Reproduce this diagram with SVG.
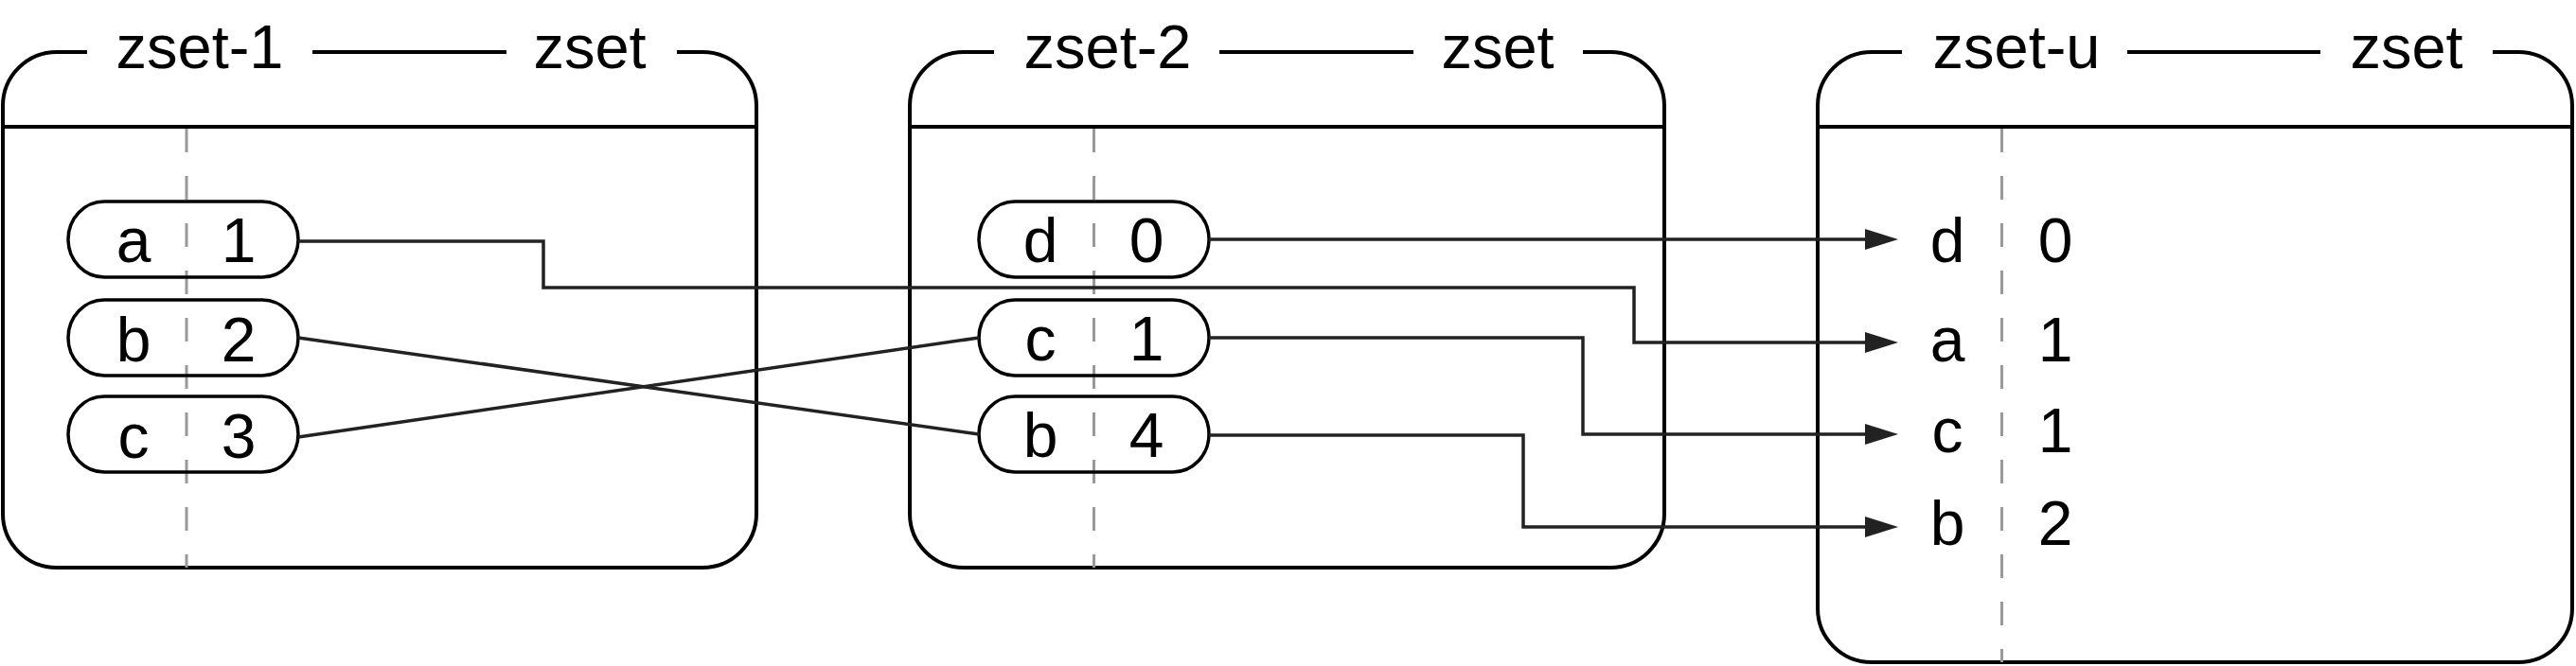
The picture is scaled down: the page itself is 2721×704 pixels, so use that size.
<svg xmlns="http://www.w3.org/2000/svg" width="2721" height="704" viewBox="0 0 2721 704">
<style>
.box{fill:none;stroke:#000;stroke-width:4}
.hdr{fill:none;stroke:#000;stroke-width:4}
.div{fill:none;stroke:#999;stroke-width:3;stroke-dasharray:25 25}
.pill{fill:none;stroke:#000;stroke-width:3.5}
.ttl{font-family:"Liberation Sans",Arial,sans-serif;font-size:65px;fill:#000;text-anchor:middle}
.t{font-family:"Liberation Sans",Arial,sans-serif;font-size:66px;fill:#000;text-anchor:middle}
.conn{fill:none;stroke:#222;stroke-width:3.5}
</style>
<defs>
<marker id="arr" markerUnits="userSpaceOnUse" markerWidth="40" markerHeight="24" refX="2" refY="11" orient="auto">
<path d="M0,0 L35,11 L0,22 z" fill="#222"/>
</marker>
</defs>
<rect width="2721" height="704" fill="#fff"/>

<g id="zset-1">
<path class="box" d="M92,55 H60 A57 57 0 0 0 3,112 V543 A57 57 0 0 0 60,600 H742 A57 57 0 0 0 799,543 V112 A57 57 0 0 0 742,55 H715 M330,55 H535"/>
<path class="hdr" d="M3,134 H799"/>
<text class="ttl" x="211" y="72">zset-1</text>
<text class="ttl" x="623" y="72">zset</text>
<path class="div" d="M197,136 V600"/>
</g>

<g id="zset-2">
<path class="box" d="M1050,55 H1018 A57 57 0 0 0 961,112 V543 A57 57 0 0 0 1018,600 H1701 A57 57 0 0 0 1758,543 V112 A57 57 0 0 0 1701,55 H1672 M1288,55 H1493"/>
<path class="hdr" d="M961,134 H1758"/>
<text class="ttl" x="1170" y="72">zset-2</text>
<text class="ttl" x="1582" y="72">zset</text>
<path class="div" d="M1155.5,136 V600"/>
</g>

<g id="zset-u">
<path class="box" d="M2009,55 H1977 A57 57 0 0 0 1920,112 V643 A57 57 0 0 0 1977,700 H2660 A57 57 0 0 0 2717,643 V112 A57 57 0 0 0 2660,55 H2633 M2247,55 H2451"/>
<path class="hdr" d="M1920,134 H2717"/>
<text class="ttl" x="2130" y="72">zset-u</text>
<text class="ttl" x="2542" y="72">zset</text>
<path class="div" d="M2114.5,136 V700"/>
<text class="t" x="2057" y="277">d</text><text class="t" x="2171" y="277">0</text>
<text class="t" x="2057" y="382">a</text><text class="t" x="2171" y="382">1</text>
<text class="t" x="2057" y="478">c</text><text class="t" x="2171" y="478">1</text>
<text class="t" x="2057" y="576">b</text><text class="t" x="2171" y="576">2</text>
</g>

<g id="z1-a"><rect class="pill" x="72" y="213" width="243" height="80" rx="38" ry="40"/><text class="t" x="141" y="277">a</text><text class="t" x="252" y="277">1</text></g>
<g id="z1-b"><rect class="pill" x="72" y="317" width="243" height="80" rx="38" ry="40"/><text class="t" x="141" y="382">b</text><text class="t" x="252" y="382">2</text></g>
<g id="z1-c"><rect class="pill" x="72" y="419" width="243" height="80" rx="38" ry="40"/><text class="t" x="141" y="484">c</text><text class="t" x="252" y="484">3</text></g>

<g id="z2-d"><rect class="pill" x="1034" y="213" width="243" height="80" rx="38" ry="40"/><text class="t" x="1099" y="277">d</text><text class="t" x="1211" y="277">0</text></g>
<g id="z2-c"><rect class="pill" x="1034" y="317" width="243" height="80" rx="38" ry="40"/><text class="t" x="1099" y="381">c</text><text class="t" x="1211" y="381">1</text></g>
<g id="z2-b"><rect class="pill" x="1034" y="419" width="243" height="80" rx="38" ry="40"/><text class="t" x="1099" y="483">b</text><text class="t" x="1211" y="483">4</text></g>

<g id="connectors">
<path class="conn" d="M315,255 H574 V304 H1726 V362 H1972" marker-end="url(#arr)"/>
<path class="conn" d="M315,357 L1034,459"/>
<path class="conn" d="M315,462 L1034,357"/>
<path class="conn" d="M1277,253 H1972" marker-end="url(#arr)"/>
<path class="conn" d="M1277,357 H1672 V459 H1972" marker-end="url(#arr)"/>
<path class="conn" d="M1277,460 H1609 V557 H1972" marker-end="url(#arr)"/>
</g>
</svg>
